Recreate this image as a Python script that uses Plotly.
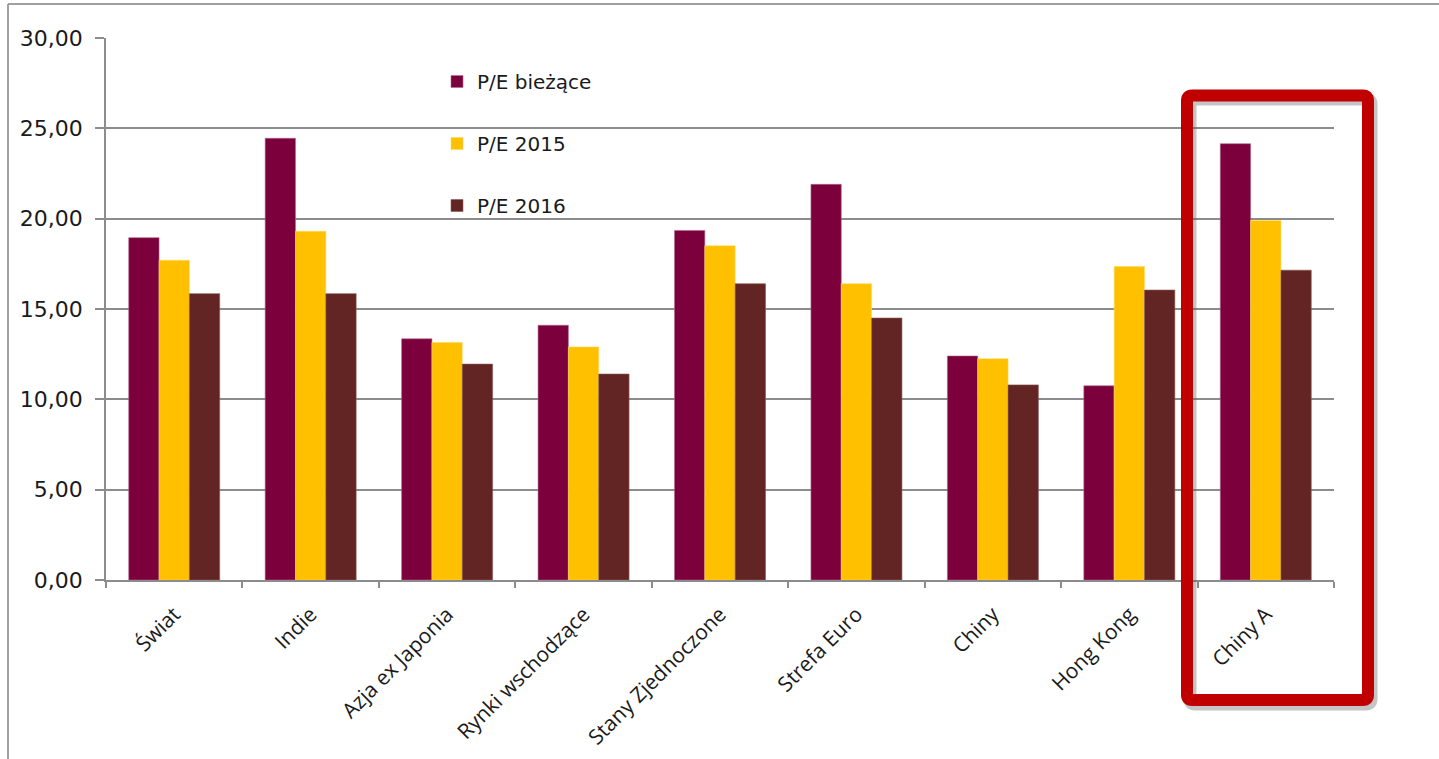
import plotly.graph_objects as go

categories = ["Świat", "Indie", "Azja ex Japonia", "Rynki wschodzące", "Stany Zjednoczone",
              "Strefa Euro", "Chiny", "Hong Kong", "Chiny A"]
pe_current = [18.95, 24.45, 13.35, 14.10, 19.35, 21.90, 12.40, 10.75, 24.15]
pe_2015 = [17.70, 19.30, 13.15, 12.90, 18.50, 16.40, 12.25, 17.35, 19.90]
pe_2016 = [15.85, 15.85, 11.95, 11.40, 16.40, 14.50, 10.80, 16.05, 17.15]
series_names = ["P/E bieżące", "P/E 2015", "P/E 2016"]
y_ticks = [0, 5, 10, 15, 20, 25, 30]

colors = ["#7B003B", "#FFC000", "#632523"]
edge = ["#B06A8A", "#FFD966", "#8C5A58"]

W, H = 1439, 759
L, R, T, B = 106, 105, 38, 179

fig = go.Figure()
for name, vals, c, e in zip(series_names, [pe_current, pe_2015, pe_2016], colors, edge):
    fig.add_trace(go.Bar(
        x=categories, y=vals, name=name, legendgroup=name,
        marker=dict(color=c, line=dict(color=e, width=0.6)),
    ))

def box_path(x0, x1, ytop, ybot, r=5):
    X0, X1 = x0 - L, x1 - L
    Y0, Y1 = (H - B) - ybot, (H - B) - ytop
    return (f"M{X0+r},{Y1} L{X1-r},{Y1} Q{X1},{Y1} {X1},{Y1-r} "
            f"L{X1},{Y0+r} Q{X1},{Y0} {X1-r},{Y0} L{X0+r},{Y0} Q{X0},{Y0} {X0},{Y0+r} "
            f"L{X0},{Y1-r} Q{X0},{Y1} {X0+r},{Y1} Z")

shadow = box_path(1190, 1371, 99, 704)
red = box_path(1187, 1368, 95.5, 700)
shapes = [
    dict(type="path", path=shadow, xref="paper", yref="paper", xsizemode="pixel", ysizemode="pixel",
         xanchor=0, yanchor=0, line=dict(color="rgba(90,90,90,0.35)", width=13), layer="above"),
    dict(type="path", path=red, xref="paper", yref="paper", xsizemode="pixel", ysizemode="pixel",
         xanchor=0, yanchor=0, line=dict(color="#C00000", width=12), layer="above"),
    dict(type="line", xref="paper", yref="paper", xsizemode="pixel", ysizemode="pixel",
         xanchor=0, yanchor=0, x0=8 - L, x1=W - L, y0=(H - B) - 4, y1=(H - B) - 4,
         line=dict(color="#A0A0A0", width=2)),
    dict(type="line", xref="paper", yref="paper", xsizemode="pixel", ysizemode="pixel",
         xanchor=0, yanchor=0, x0=8 - L, x1=8 - L, y0=(H - B) - 4, y1=-B,
         line=dict(color="#A0A0A0", width=2)),
]

fig.update_layout(
    template="none",
    width=W, height=H,
    margin=dict(l=L, r=R, t=T, b=B, pad=0, autoexpand=False),
    paper_bgcolor="white", plot_bgcolor="white",
    separators=", ",
    barmode="group", bargap=0.333, bargroupgap=0,
    font=dict(family="DejaVu Sans", size=19, color="#1a1a1a"),
    showlegend=True,
    legend=dict(
        x=(437 - L) / (W - L - R), y=(H - B - 62) / (H - T - B),
        xanchor="left", yanchor="top",
        bgcolor="rgba(0,0,0,0)", font=dict(family="DejaVu Sans", size=20, color="#1a1a1a"),
        tracegroupgap=33, itemclick=False,
    ),
    shapes=shapes,
    xaxis=dict(
        type="category", tickangle=-45, tickson="boundaries", automargin=False,
        ticks="outside", ticklen=6, tickcolor="#8C8C8C", tickwidth=1.5,
        showline=True, linecolor="#8C8C8C", linewidth=1.5,
        showgrid=False, ticklabelstandoff=12, zeroline=False,
        tickfont=dict(family="Open Sans", size=21, color="#1a1a1a"),
    ),
    yaxis=dict(
        range=[0, 30], tickvals=y_ticks, tickformat=".2f", automargin=False,
        ticks="outside", ticklen=9, tickcolor="#8C8C8C", tickwidth=1.5,
        showline=True, linecolor="#8C8C8C", linewidth=1.5,
        showgrid=True, gridcolor="#8C8C8C", gridwidth=1.5,
        zeroline=False, ticklabelstandoff=8,
        tickfont=dict(family="DejaVu Sans", size=22, color="#1a1a1a"),
    ),
)

fig.write_html("out.html")
